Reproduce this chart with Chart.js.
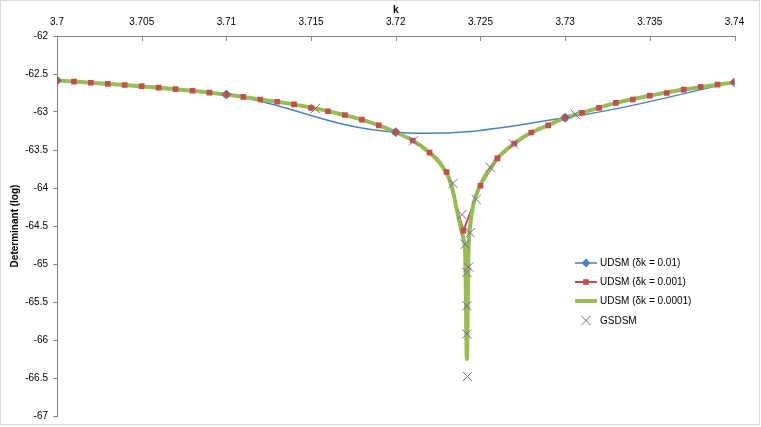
<!DOCTYPE html>
<html>
<head>
<meta charset="utf-8">
<script src="https://cdn.jsdelivr.net/npm/chart.js@4.4.1/dist/chart.umd.min.js"></script>
<style>
  html, body { margin: 0; padding: 0; background: #fff; }
  canvas { display: block; }
</style>
</head>
<body>
<canvas id="det" width="761" height="427"></canvas>
<script>
// axis ticks
const xTicks = [3.7, 3.705, 3.71, 3.715, 3.72, 3.725, 3.73, 3.735, 3.74];
const yTicks = [-62, -62.5, -63, -63.5, -64, -64.5, -65, -65.5, -66, -66.5, -67];

// UDSM, dk = 0.01
const k01 = [3.70, 3.71, 3.72, 3.73, 3.74];
const udsm01 = [-62.585, -62.77, -63.265, -63.076, -62.61];

// UDSM, dk = 0.001
const k001 = [3.700, 3.701, 3.702, 3.703, 3.704, 3.705, 3.706, 3.707, 3.708, 3.709,
              3.710, 3.711, 3.712, 3.713, 3.714, 3.715, 3.716, 3.717, 3.718, 3.719,
              3.720, 3.721, 3.722, 3.723, 3.724, 3.725, 3.726, 3.727, 3.728, 3.729,
              3.730, 3.731, 3.732, 3.733, 3.734, 3.735, 3.736, 3.737, 3.738, 3.739, 3.740];
const udsm001 = [-62.585, -62.60, -62.615, -62.63, -62.645, -62.66, -62.68, -62.70, -62.72, -62.745,
                 -62.77, -62.80, -62.835, -62.865, -62.90, -62.945, -62.99, -63.04, -63.10, -63.175,
                 -63.265, -63.375, -63.535, -63.79, -64.56, -63.97, -63.61, -63.415, -63.27, -63.175,
                 -63.075, -63.01, -62.945, -62.88, -62.835, -62.785, -62.75, -62.705, -62.67, -62.64, -62.61];

// UDSM, dk = 0.0001
const k0001 = [3.700, 3.702, 3.704, 3.706, 3.708, 3.710, 3.712, 3.714, 3.716, 3.718,
               3.719, 3.720, 3.721, 3.722, 3.7226, 3.7231, 3.7233, 3.7236, 3.7238, 3.7240,
               3.7241, 3.7242, 3.7243, 3.7244, 3.7246, 3.7248, 3.7250, 3.7253, 3.7256, 3.7260,
               3.727, 3.728, 3.729, 3.730, 3.731, 3.733, 3.735, 3.737, 3.740];
const udsm0001 = [-62.585, -62.615, -62.645, -62.68, -62.72, -62.77, -62.835, -62.90, -62.99, -63.10,
                  -63.175, -63.265, -63.375, -63.535, -63.665, -63.85, -63.97, -64.28, -64.49, -64.67,
                  -64.86, -66.25, -64.80, -64.49, -64.20, -64.06, -63.96, -63.83, -63.74, -63.61,
                  -63.415, -63.27, -63.175, -63.075, -63.01, -62.88, -62.785, -62.705, -62.61];

// GSDSM
const kGs = [3.71525, 3.72105, 3.72338, 3.72391, 3.72410, 3.72420, 3.72420, 3.72420, 3.72424, 3.72430,
             3.72440, 3.72475, 3.72558, 3.72695, 3.73060];
const gsdsm = [-62.955, -63.38, -63.94, -64.35, -64.74, -65.11, -65.55, -65.92, -66.48, -65.04,
               -64.59, -64.15, -63.73, -63.42, -63.03];

const BLUE = '#4F81BD', RED = '#C0504D', GREEN = '#9BBB59', PURPLE = '#8064A2', AXIS = '#868686';

function pts(xs, ys) { return xs.map((x, i) => ({ x: x, y: ys[i] })); }

Chart.defaults.font.family = "'Liberation Sans', Arial, sans-serif";
Chart.defaults.font.size = 10;
Chart.defaults.color = '#000';

function drawMarker(ctx, style, x, y, r, color) {
  ctx.save();
  ctx.fillStyle = color;
  ctx.strokeStyle = color;
  ctx.lineWidth = 1;
  ctx.beginPath();
  if (style === 'rectRot') {
    ctx.moveTo(x - r, y); ctx.lineTo(x, y - r); ctx.lineTo(x + r, y); ctx.lineTo(x, y + r);
    ctx.closePath(); ctx.fill();
  } else if (style === 'rect') {
    const s = r * Math.SQRT1_2;
    ctx.rect(x - s, y - s, 2 * s, 2 * s); ctx.fill();
  } else if (style === 'crossRot') {
    const s = r * Math.SQRT1_2;
    ctx.moveTo(x - s, y - s); ctx.lineTo(x + s, y + s);
    ctx.moveTo(x + s, y - s); ctx.lineTo(x - s, y + s);
    ctx.stroke();
  }
  ctx.restore();
}

const legendItems = [
  { text: 'UDSM (\u03B4k = 0.01)', color: BLUE, width: 1.5, marker: 'rectRot', r: 4.5 },
  { text: 'UDSM (\u03B4k = 0.001)', color: RED, width: 2, marker: 'rect', r: 4 },
  { text: 'UDSM (\u03B4k = 0.0001)', color: GREEN, width: 4, marker: null },
  { text: 'GSDSM', color: PURPLE, width: 0, marker: 'crossRot', r: 6.5 }
];

const excelLook = {
  id: 'excelLook',
  beforeDraw(chart) {
    const ctx = chart.ctx;
    ctx.save();
    ctx.fillStyle = '#fff';
    ctx.fillRect(0, 0, chart.width, chart.height);
    ctx.restore();
  },
  afterDraw(chart) {
    const ctx = chart.ctx;
    const xs = chart.scales.x;
    ctx.save();
    // inward tick marks on the top axis
    ctx.strokeStyle = AXIS;
    ctx.lineWidth = 1;
    ctx.beginPath();
    xTicks.forEach(v => {
      const px = Math.round(xs.getPixelForValue(v)) + 0.5;
      ctx.moveTo(px, chart.chartArea.top);
      ctx.lineTo(px, chart.chartArea.top + 5);
    });
    ctx.stroke();

    // legend
    ctx.textBaseline = 'middle';
    ctx.textAlign = 'left';
    ctx.font = "10px 'Liberation Sans', Arial, sans-serif";
    const rows = [263, 282, 301, 320.5];
    legendItems.forEach((it, i) => {
      const y = rows[i];
      if (it.width) {
        ctx.strokeStyle = it.color;
        ctx.lineWidth = it.width;
        ctx.beginPath();
        ctx.moveTo(575, y);
        ctx.lineTo(597, y);
        ctx.stroke();
      }
      if (it.marker) drawMarker(ctx, it.marker, 586, y, it.r, it.color);
      ctx.fillStyle = '#000';
      ctx.fillText(it.text, 600, y + 0.5);
    });

    // chart frame
    ctx.strokeStyle = '#d9d9d9';
    ctx.lineWidth = 1;
    ctx.strokeRect(0.5, 0.5, 759, 424);
    ctx.restore();
  }
};

new Chart(document.getElementById('det'), {
  type: 'scatter',
  data: {
    datasets: [
      { label: 'UDSM (\u03B4k = 0.01)', data: pts(k01, udsm01), showLine: true,
        borderColor: BLUE, borderWidth: 1.5, tension: 0.4, pointRadius: 0, order: 30 },
      { label: 'UDSM (\u03B4k = 0.001)', data: pts(k001, udsm001), showLine: true,
        borderColor: RED, borderWidth: 2, tension: 0, pointRadius: 0, order: 20 },
      { label: 'UDSM (\u03B4k = 0.0001)', data: pts(k0001, udsm0001), showLine: true,
        borderColor: GREEN, borderWidth: 4, tension: 0.4, cubicInterpolationMode: 'monotone',
        pointRadius: 0, order: 10 },
      { label: 'GSDSM', data: pts(kGs, gsdsm), showLine: false,
        pointStyle: 'crossRot', pointRadius: 6.5, borderColor: PURPLE, pointBorderWidth: 1, order: 1 },
      // markers drawn above all lines, as in the original
      { label: 'm01', data: pts(k01, udsm01), showLine: false, pointStyle: 'rectRot',
        pointRadius: 4.5, backgroundColor: BLUE, borderColor: BLUE, pointBorderWidth: 1, order: 3 },
      { label: 'm001', data: pts(k001, udsm001), showLine: false, pointStyle: 'rect',
        pointRadius: 4, backgroundColor: RED, borderColor: RED, pointBorderWidth: 0, order: 2 }
    ]
  },
  options: {
    responsive: false,
    animation: false,
    events: [],
    layout: { padding: { left: 0, right: 26.5, top: 0, bottom: 8.7 } },
    plugins: {
      legend: { display: false },
      tooltip: { enabled: false }
    },
    scales: {
      x: {
        type: 'linear',
        position: 'top',
        min: 3.7,
        max: 3.74,
        afterBuildTicks: s => { s.ticks = xTicks.map(v => ({ value: v })); },
        afterFit: s => { s.height = 36; },
        ticks: { padding: 8, maxRotation: 0, autoSkip: false,
                 callback: v => String(Number(v.toFixed(3))) },
        grid: { display: false, drawTicks: false },
        border: { display: true, color: AXIS, width: 1 },
        title: { display: true, text: 'k', font: { weight: 'bold', size: 10 },
                 padding: { top: 4, bottom: 0 } }
      },
      y: {
        type: 'linear',
        min: -67,
        max: -62,
        afterBuildTicks: s => { s.ticks = yTicks.map(v => ({ value: v })); },
        afterFit: s => { s.width = 57; },
        ticks: { padding: 5, autoSkip: false,
                 callback: v => String(Number(v.toFixed(1))) },
        grid: { display: true, drawOnChartArea: false, drawTicks: true, tickLength: 4, color: AXIS },
        border: { display: true, color: AXIS, width: 1 },
        title: { display: true, text: 'Determinant (log)', font: { weight: 'bold', size: 10 },
                 padding: { top: 9, bottom: 0 } }
      }
    }
  },
  plugins: [excelLook]
});
</script>
</body>
</html>
